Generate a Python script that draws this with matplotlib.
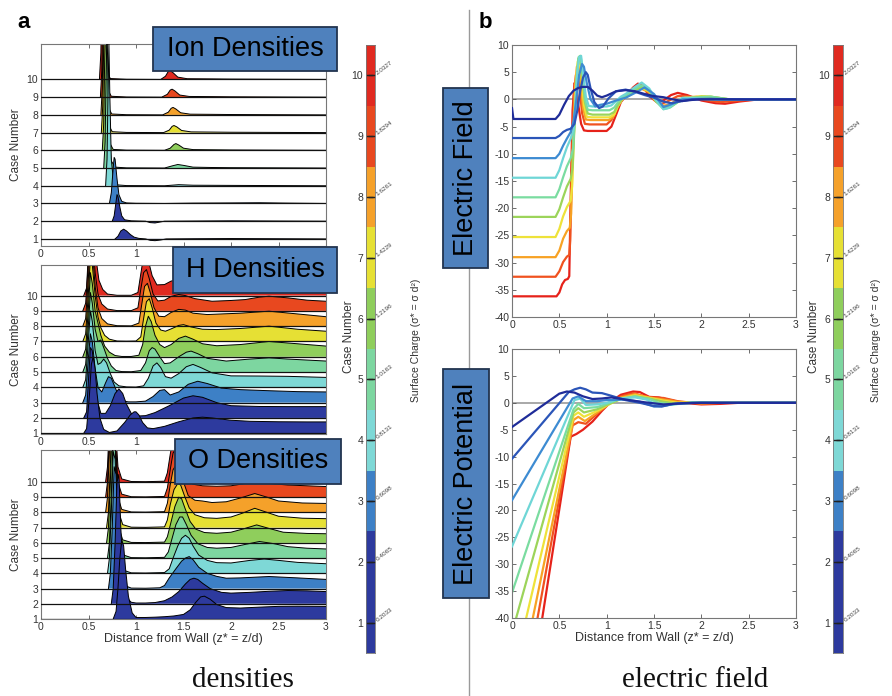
import matplotlib
matplotlib.use('Agg')
import matplotlib.pyplot as plt
from matplotlib.patches import Rectangle
from matplotlib.lines import Line2D
import matplotlib.transforms as mtrans
import numpy as np

plt.rcParams['font.family'] = ['Liberation Sans', 'DejaVu Sans']
plt.rcParams['axes.unicode_minus'] = False

W, H = 892, 696

# ---------------- data ----------------
cases = [1, 2, 3, 4, 5, 6, 7, 8, 9, 10]
surface_charge = ['0.2033', '0.4065', '0.6098', '0.8131', '1.0163',
                  '1.2196', '1.4229', '1.6261', '1.8294', '2.0327']
case_colors = ['#2d3a9e', '#2d3a9e', '#3d80c6', '#7ed8d6', '#7dd6a0',
               '#8fce5c', '#e6e034', '#f5a12a', '#e8481f', '#e02a20']
line_colors = ['#1f2c99', '#2b55b8', '#3d8bd2', '#6fd6d6', '#7adca0',
               '#9cd45a', '#eee23a', '#f7a224', '#f0521f', '#e6221a']
x_ticks = [0, 0.5, 1, 1.5, 2, 2.5, 3]
x_tick_labels = ['0', '0.5', '1', '1.5', '2', '2.5', '3']
# upper density panels: labels beyond x=1 are hidden behind the title boxes
x_tick_labels_upper = ['0', '0.5', '1', '', '', '', '']
e_ticks = [-40, -35, -30, -25, -20, -15, -10, -5, 0, 5, 10]

# Ion densities (height above each case baseline)
ion_x = [
    [0.78, 0.81, 0.84, 0.87, 0.9, 0.94, 0.98, 1.03, 1.1, 1.15, 1.2, 1.26, 1.32, 1.6, 2.0, 2.5, 3.0],
    [0.75, 0.77, 0.79, 0.8, 0.81, 0.83, 0.85, 0.88, 0.95, 1.1, 1.15, 1.2, 1.25, 1.3, 1.6, 2.0, 2.5, 3.0],
    [0.72, 0.74, 0.76, 0.77, 0.78, 0.8, 0.82, 0.85, 0.9, 1.0, 1.3, 1.6, 2.0, 2.3, 2.6, 3.0],
    [0.68, 0.695, 0.705, 0.715, 0.725, 0.74, 0.76, 0.8, 0.9, 1.3, 1.45, 1.6, 2.0, 2.5, 3.0],
    [0.66, 0.675, 0.685, 0.695, 0.705, 0.72, 0.74, 0.78, 0.9, 1.3, 1.38, 1.44, 1.5, 1.6, 1.8, 2.0, 2.5, 3.0],
    [0.645, 0.66, 0.67, 0.68, 0.69, 0.705, 0.725, 0.76, 0.9, 1.3, 1.36, 1.4, 1.42, 1.45, 1.5, 1.6, 1.8, 2.0, 2.5, 3.0],
    [0.635, 0.65, 0.66, 0.67, 0.68, 0.695, 0.715, 0.75, 0.9, 1.29, 1.35, 1.38, 1.40, 1.43, 1.48, 1.58, 1.8, 2.0, 2.5, 3.0],
    [0.63, 0.645, 0.655, 0.665, 0.675, 0.69, 0.71, 0.745, 0.9, 1.28, 1.34, 1.37, 1.39, 1.42, 1.47, 1.57, 1.8, 2.0, 2.5, 3.0],
    [0.625, 0.64, 0.65, 0.66, 0.67, 0.685, 0.705, 0.74, 0.9, 1.27, 1.33, 1.36, 1.38, 1.41, 1.46, 1.56, 1.8, 2.0, 2.5, 3.0],
    [0.615, 0.63, 0.64, 0.65, 0.66, 0.675, 0.695, 0.73, 0.9, 1.26, 1.31, 1.34, 1.36, 1.39, 1.44, 1.54, 1.8, 2.0, 2.5, 3.0],
]
ion_y = [
    [0, 0.15, 0.45, 0.55, 0.45, 0.25, 0.1, 0.03, 0.0, -0.08, -0.1, -0.06, 0, 0.01, 0.02, 0.01, 0],
    [0, 0.3, 1.1, 1.5, 1.4, 0.8, 0.3, 0.08, 0.02, 0, -0.08, -0.1, -0.05, 0, 0.01, 0.02, 0.01, 0],
    [0, 0.6, 2.0, 2.6, 2.5, 1.4, 0.5, 0.12, 0.03, 0.01, 0.0, 0.02, 0.03, 0.04, 0.02, 0],
    [0, 1.5, 5.0, 8.0, 5.0, 1.5, 0.4, 0.05, 0.01, 0, 0.06, 0.03, 0.02, 0.01, 0],
    [0, 1.5, 5.0, 8.0, 5.0, 1.5, 0.4, 0.05, 0.01, 0, 0.12, 0.2, 0.15, 0.05, 0.03, 0.02, 0.01, 0],
    [0, 1.5, 5.0, 8.0, 5.0, 1.5, 0.4, 0.05, 0.01, 0, 0.12, 0.33, 0.38, 0.3, 0.12, 0.04, 0.03, 0.02, 0.01, 0],
    [0, 1.5, 5.0, 8.0, 5.0, 1.5, 0.4, 0.05, 0.01, 0, 0.14, 0.35, 0.4, 0.32, 0.12, 0.04, 0.03, 0.02, 0.01, 0],
    [0, 1.5, 5.0, 8.0, 5.0, 1.5, 0.4, 0.05, 0.01, 0, 0.15, 0.37, 0.42, 0.33, 0.12, 0.04, 0.03, 0.02, 0.01, 0],
    [0, 1.5, 5.0, 8.0, 5.0, 1.5, 0.4, 0.05, 0.01, 0, 0.16, 0.4, 0.45, 0.35, 0.12, 0.04, 0.03, 0.02, 0.01, 0],
    [0, 1.5, 5.0, 8.0, 5.0, 1.5, 0.4, 0.05, 0.01, 0, 0.18, 0.45, 0.5, 0.38, 0.13, 0.04, 0.03, 0.02, 0.01, 0],
]

# H densities
h_x = [
    [0.45, 0.48, 0.51, 0.53, 0.55, 0.57, 0.59, 0.62, 0.66, 0.72, 0.8, 0.88, 0.94, 0.98, 1.0, 1.03, 1.07, 1.12, 1.18, 1.3, 1.45, 1.6, 1.7, 1.8, 2.0, 2.2, 2.5, 2.8, 3.0],
    [0.45, 0.48, 0.5, 0.52, 0.54, 0.56, 0.59, 0.63, 0.68, 0.73, 0.78, 0.82, 0.86, 0.9, 0.95, 1.0, 1.1, 1.2, 1.35, 1.5, 1.6, 1.7, 1.85, 2.0, 2.3, 2.6, 3.0],
    [0.44, 0.47, 0.5, 0.52, 0.54, 0.57, 0.6, 0.64, 0.68, 0.71, 0.74, 0.78, 0.82, 0.87, 0.92, 1.0, 1.1, 1.18, 1.25, 1.3, 1.36, 1.45, 1.55, 1.65, 1.75, 1.9, 2.1, 2.4, 2.7, 3.0],
    [0.44, 0.47, 0.5, 0.52, 0.54, 0.57, 0.6, 0.63, 0.66, 0.69, 0.73, 0.77, 0.82, 0.9, 1.0, 1.08, 1.13, 1.18, 1.22, 1.26, 1.31, 1.37, 1.45, 1.53, 1.6, 1.68, 1.8, 2.0, 2.3, 2.6, 3.0],
    [0.44, 0.47, 0.5, 0.52, 0.54, 0.57, 0.6, 0.63, 0.66, 0.7, 0.74, 0.79, 0.85, 0.95, 1.05, 1.1, 1.14, 1.17, 1.2, 1.25, 1.3, 1.36, 1.45, 1.53, 1.58, 1.65, 1.75, 1.95, 2.2, 2.4, 2.6, 3.0],
    [0.44, 0.47, 0.5, 0.52, 0.54, 0.57, 0.6, 0.63, 0.67, 0.72, 0.78, 0.85, 0.95, 1.03, 1.07, 1.1, 1.13, 1.16, 1.2, 1.25, 1.3, 1.37, 1.45, 1.52, 1.6, 1.7, 1.85, 2.1, 2.4, 2.7, 3.0],
    [0.44, 0.47, 0.5, 0.52, 0.54, 0.57, 0.6, 0.63, 0.67, 0.72, 0.8, 0.9, 1.0, 1.05, 1.08, 1.11, 1.14, 1.17, 1.21, 1.26, 1.31, 1.38, 1.45, 1.5, 1.58, 1.7, 1.85, 2.1, 2.4, 2.7, 3.0],
    [0.44, 0.47, 0.5, 0.52, 0.54, 0.57, 0.6, 0.64, 0.7, 0.8, 0.95, 1.03, 1.06, 1.09, 1.12, 1.15, 1.19, 1.24, 1.3, 1.37, 1.45, 1.52, 1.6, 1.75, 1.9, 2.1, 2.4, 2.7, 3.0],
    [0.44, 0.47, 0.5, 0.52, 0.54, 0.57, 0.6, 0.64, 0.7, 0.8, 0.95, 1.02, 1.05, 1.08, 1.11, 1.14, 1.18, 1.23, 1.3, 1.37, 1.45, 1.52, 1.62, 1.8, 2.0, 2.15, 2.3, 2.4, 2.6, 2.8, 3.0],
    [0.45, 0.48, 0.5, 0.53, 0.55, 0.58, 0.61, 0.65, 0.7, 0.8, 0.95, 1.02, 1.05, 1.08, 1.1, 1.13, 1.17, 1.22, 1.3, 1.37, 1.45, 1.55, 1.7, 1.9, 2.2, 2.4, 2.7, 3.0],
]
h_y = [
    [0, 0.3, 2.5, 4.5, 5.0, 4.2, 2.6, 1.0, 0.25, 0.05, 0.15, 0.7, 1.2, 1.4, 1.4, 1.2, 0.7, 0.35, 0.3, 0.45, 0.75, 1.0, 1.05, 1.0, 0.85, 0.78, 0.75, 0.74, 0.74],
    [0, 0.4, 2.5, 4.6, 4.4, 3.0, 1.2, 0.3, 0.3, 0.8, 1.6, 1.9, 1.6, 0.9, 0.3, 0.12, 0.15, 0.35, 0.8, 1.3, 1.45, 1.35, 1.0, 0.8, 0.75, 0.74, 0.74],
    [0, 0.5, 3.0, 4.5, 4.0, 2.2, 1.0, 0.7, 1.3, 1.7, 1.6, 1.0, 0.4, 0.1, 0.05, 0.05, 0.1, 0.4, 0.8, 0.85, 0.5, 0.7, 1.2, 1.4, 1.25, 0.95, 0.85, 0.78, 0.72, 0.7],
    [0, 0.5, 3.2, 5.0, 4.3, 2.4, 1.5, 1.6, 1.85, 1.6, 0.9, 0.35, 0.1, 0.03, 0.02, 0.1, 0.6, 1.4, 1.6, 1.3, 0.7, 0.6, 0.9, 1.35, 1.5, 1.3, 0.95, 0.75, 0.74, 0.72, 0.65],
    [0, 0.5, 3.2, 5.2, 4.5, 2.8, 2.0, 2.1, 1.6, 0.9, 0.4, 0.1, 0.03, 0.02, 0.1, 0.6, 1.4, 1.6, 1.5, 1.0, 0.55, 0.6, 1.0, 1.3, 1.37, 1.2, 0.9, 0.72, 0.85, 0.93, 0.85, 0.72],
    [0, 0.5, 3.3, 5.5, 4.8, 3.0, 2.2, 1.4, 0.7, 0.3, 0.08, 0.02, 0.02, 0.1, 0.8, 2.0, 2.65, 2.3, 1.4, 0.8, 0.6, 0.8, 1.2, 1.35, 1.15, 0.85, 0.72, 0.8, 1.0, 0.85, 0.7],
    [0, 0.5, 3.3, 5.5, 5.0, 3.0, 1.6, 0.9, 0.4, 0.15, 0.03, 0.02, 0.03, 0.3, 1.5, 2.6, 2.8, 2.2, 1.2, 0.75, 0.67, 0.85, 1.05, 1.1, 0.95, 0.8, 0.78, 0.85, 1.0, 0.8, 0.67],
    [0, 0.5, 3.3, 5.6, 5.0, 2.6, 1.2, 0.5, 0.15, 0.03, 0.02, 0.2, 1.4, 2.6, 2.8, 2.2, 1.2, 0.65, 0.62, 0.9, 1.1, 1.05, 0.85, 0.76, 0.8, 0.85, 0.98, 0.8, 0.62],
    [0, 0.5, 3.3, 5.6, 5.0, 2.5, 1.1, 0.45, 0.12, 0.02, 0.02, 0.2, 1.4, 2.5, 2.7, 2.1, 1.1, 0.65, 0.7, 0.95, 1.07, 1.0, 0.8, 0.63, 0.68, 0.74, 0.9, 0.96, 0.85, 0.7, 0.63],
    [0, 0.5, 3.0, 5.6, 5.0, 2.4, 1.0, 0.4, 0.1, 0.02, 0.02, 0.2, 1.4, 2.6, 2.9, 2.3, 1.3, 0.7, 0.72, 0.95, 1.05, 0.95, 0.8, 0.7, 0.8, 1.0, 0.8, 0.65],
]

# O densities
o_x = [
    [0.76, 0.79, 0.81, 0.83, 0.85, 0.87, 0.89, 0.92, 0.96, 1.0, 1.1, 1.2, 1.3, 1.4, 1.5, 1.57, 1.63, 1.68, 1.72, 1.78, 1.85, 1.95, 2.1, 2.3, 2.5, 2.7, 3.0],
    [0.74, 0.76, 0.78, 0.8, 0.82, 0.84, 0.87, 0.9, 0.95, 1.0, 1.1, 1.2, 1.3, 1.38, 1.45, 1.52, 1.57, 1.61, 1.65, 1.7, 1.78, 1.9, 2.0, 2.2, 2.4, 2.6, 2.8, 3.0],
    [0.71, 0.73, 0.75, 0.77, 0.79, 0.81, 0.84, 0.88, 0.95, 1.1, 1.25, 1.3, 1.35, 1.42, 1.48, 1.52, 1.56, 1.6, 1.66, 1.75, 1.85, 1.95, 2.1, 2.4, 2.7, 3.0],
    [0.7, 0.72, 0.74, 0.76, 0.78, 0.8, 0.83, 0.87, 0.95, 1.1, 1.3, 1.35, 1.39, 1.44, 1.48, 1.52, 1.56, 1.6, 1.66, 1.75, 1.85, 2.0, 2.2, 2.35, 2.5, 2.7, 3.0],
    [0.7, 0.72, 0.74, 0.76, 0.78, 0.8, 0.83, 0.87, 0.95, 1.1, 1.3, 1.34, 1.38, 1.42, 1.46, 1.49, 1.53, 1.58, 1.65, 1.75, 1.85, 2.0, 2.15, 2.3, 2.45, 2.6, 2.8, 3.0],
    [0.69, 0.71, 0.73, 0.75, 0.77, 0.79, 0.82, 0.86, 0.95, 1.1, 1.3, 1.33, 1.37, 1.41, 1.45, 1.48, 1.52, 1.57, 1.63, 1.72, 1.85, 2.0, 2.12, 2.27, 2.4, 2.55, 2.8, 3.0],
    [0.69, 0.71, 0.73, 0.75, 0.77, 0.79, 0.82, 0.86, 0.95, 1.1, 1.3, 1.33, 1.36, 1.4, 1.44, 1.47, 1.51, 1.56, 1.62, 1.72, 1.85, 2.0, 2.12, 2.25, 2.38, 2.5, 2.75, 3.0],
    [0.68, 0.7, 0.72, 0.74, 0.76, 0.78, 0.81, 0.85, 0.95, 1.1, 1.3, 1.33, 1.36, 1.39, 1.43, 1.46, 1.5, 1.55, 1.62, 1.7, 1.8, 1.95, 2.1, 2.25, 2.38, 2.5, 2.75, 3.0],
    [0.68, 0.7, 0.72, 0.74, 0.76, 0.78, 0.81, 0.85, 0.95, 1.1, 1.3, 1.33, 1.36, 1.39, 1.42, 1.45, 1.49, 1.54, 1.6, 1.7, 1.85, 2.0, 2.2, 2.4, 2.6, 2.8, 3.0],
    [0.68, 0.7, 0.72, 0.74, 0.76, 0.78, 0.81, 0.85, 0.95, 1.1, 1.3, 1.33, 1.36, 1.39, 1.42, 1.45, 1.49, 1.54, 1.6, 1.7, 1.85, 2.0, 2.2, 2.4, 2.6, 2.8, 3.0],
]
o_y = [
    [0, 0.5, 2.0, 4.0, 5.2, 4.8, 3.3, 1.5, 0.4, 0.1, 0.1, 0.12, 0.15, 0.2, 0.3, 0.6, 1.1, 1.45, 1.5, 1.3, 0.95, 0.75, 0.72, 0.78, 0.83, 0.84, 0.83],
    [0, 1.0, 4.0, 8.0, 8.5, 5.0, 1.5, 0.4, 0.1, 0.05, 0.05, 0.08, 0.2, 0.45, 0.8, 1.3, 1.6, 1.68, 1.6, 1.35, 1.0, 0.75, 0.7, 0.75, 0.82, 0.87, 0.85, 0.8],
    [0, 1.0, 4.0, 8.0, 7.5, 4.0, 1.0, 0.2, 0.03, 0.02, 0.05, 0.2, 0.7, 1.3, 1.8, 2.0, 2.1, 1.9, 1.4, 1.0, 0.8, 0.68, 0.7, 0.79, 0.7, 0.6],
    [0, 1, 4, 8, 7.5, 4, 1, 0.2, 0.03, 0.02, 0.05, 0.3, 1.0, 1.8, 2.3, 2.5, 2.3, 1.8, 1.2, 0.85, 0.7, 0.68, 0.85, 0.94, 0.85, 0.72, 0.63],
    [0, 1, 4, 8, 7.5, 4, 1, 0.2, 0.03, 0.02, 0.05, 0.4, 1.3, 2.2, 2.7, 2.7, 2.2, 1.5, 0.95, 0.7, 0.65, 0.7, 0.9, 1.09, 0.95, 0.75, 0.65, 0.6],
    [0, 1, 4, 8, 7.5, 4, 1, 0.2, 0.03, 0.02, 0.05, 0.4, 1.4, 2.4, 3.0, 2.9, 2.2, 1.4, 0.9, 0.68, 0.63, 0.7, 0.9, 1.18, 0.95, 0.7, 0.62, 0.6],
    [0, 1, 4, 8, 7.5, 4, 1, 0.2, 0.03, 0.02, 0.05, 0.5, 1.5, 2.5, 2.9, 2.8, 2.1, 1.3, 0.85, 0.65, 0.61, 0.7, 0.95, 1.27, 1.0, 0.75, 0.62, 0.59],
    [0, 1, 4, 8, 7.5, 4, 1, 0.2, 0.03, 0.02, 0.05, 0.6, 1.8, 2.8, 3.2, 3.0, 2.0, 1.1, 0.8, 0.75, 0.65, 0.7, 0.95, 1.24, 1.0, 0.75, 0.62, 0.59],
    [0, 1, 4, 8, 7.5, 4, 1, 0.2, 0.03, 0.02, 0.05, 0.6, 1.8, 2.9, 3.2, 3.0, 2.0, 1.1, 0.85, 0.75, 0.72, 0.75, 0.95, 0.9, 0.8, 0.75, 0.7],
    [0, 1, 4, 8, 7.5, 4, 1, 0.2, 0.03, 0.02, 0.05, 0.6, 1.8, 2.9, 3.2, 3.0, 2.0, 1.1, 0.85, 0.8, 0.8, 0.85, 1.0, 0.95, 0.85, 0.8, 0.75],
]

# Electric field
ef_x = [
    [0, 0.015, 0.1, 0.3, 0.46, 0.5, 0.55, 0.6, 0.65, 0.7, 0.75, 0.8, 0.85, 0.9, 0.95, 1.0, 1.1, 1.2, 1.3, 1.4, 1.5, 1.6, 1.7, 1.8, 1.9, 2.0, 2.3, 2.6, 3.0],
    [0, 0.3, 0.46, 0.5, 0.54, 0.58, 0.62, 0.66, 0.69, 0.72, 0.75, 0.78, 0.8, 0.83, 0.87, 0.92, 0.96, 1.02, 1.1, 1.2, 1.3, 1.4, 1.5, 1.6, 1.68, 1.8, 1.9, 2.1, 2.5, 3.0],
    [0, 0.3, 0.46, 0.5, 0.54, 0.58, 0.62, 0.65, 0.68, 0.71, 0.74, 0.76, 0.79, 0.83, 0.88, 0.93, 1.0, 1.1, 1.2, 1.3, 1.4, 1.5, 1.6, 1.7, 1.8, 2.0, 2.3, 3.0],
    [0, 0.3, 0.46, 0.5, 0.54, 0.58, 0.62, 0.65, 0.67, 0.69, 0.71, 0.73, 0.75, 0.78, 0.81, 0.85, 1.0, 1.05, 1.1, 1.15, 1.2, 1.3, 1.37, 1.45, 1.52, 1.6, 1.65, 1.72, 1.8, 1.9, 2.0, 2.2, 2.5, 3.0],
    [0, 0.3, 0.46, 0.5, 0.54, 0.58, 0.62, 0.645, 0.665, 0.685, 0.705, 0.725, 0.745, 0.77, 0.8, 0.85, 1.03, 1.08, 1.12, 1.17, 1.25, 1.32, 1.37, 1.45, 1.52, 1.6, 1.67, 1.75, 1.85, 2.0, 2.1, 2.3, 2.5, 3.0],
    [0, 0.3, 0.46, 0.5, 0.54, 0.58, 0.62, 0.64, 0.66, 0.68, 0.70, 0.72, 0.74, 0.77, 0.8, 0.85, 1.03, 1.08, 1.12, 1.17, 1.25, 1.32, 1.37, 1.45, 1.52, 1.6, 1.67, 1.75, 1.85, 2.0, 2.1, 2.3, 2.5, 3.0],
    [0, 0.3, 0.46, 0.5, 0.54, 0.58, 0.62, 0.635, 0.655, 0.675, 0.695, 0.715, 0.735, 0.76, 0.79, 0.84, 1.03, 1.08, 1.12, 1.17, 1.25, 1.32, 1.37, 1.45, 1.52, 1.6, 1.67, 1.75, 1.85, 2.0, 2.1, 2.3, 2.5, 3.0],
    [0, 0.3, 0.46, 0.5, 0.54, 0.58, 0.61, 0.625, 0.645, 0.665, 0.685, 0.705, 0.725, 0.75, 0.78, 0.83, 1.02, 1.07, 1.11, 1.16, 1.24, 1.31, 1.36, 1.44, 1.51, 1.58, 1.65, 1.73, 1.83, 1.95, 2.1, 2.3, 2.5, 3.0],
    [0, 0.3, 0.46, 0.5, 0.54, 0.58, 0.605, 0.615, 0.635, 0.655, 0.675, 0.695, 0.715, 0.74, 0.77, 0.82, 1.0, 1.05, 1.1, 1.15, 1.22, 1.3, 1.35, 1.42, 1.5, 1.57, 1.65, 1.75, 1.85, 2.0, 2.2, 2.4, 2.6, 3.0],
    [0, 0.3, 0.47, 0.5, 0.53, 0.56, 0.59, 0.605, 0.62, 0.64, 0.66, 0.68, 0.7, 0.73, 0.76, 0.8, 1.0, 1.05, 1.1, 1.15, 1.22, 1.28, 1.33, 1.38, 1.45, 1.53, 1.6, 1.68, 1.75, 1.85, 2.0, 2.15, 2.25, 2.4, 2.6, 3.0],
]
ef_y = [
    [-1.6, -3.6, -3.6, -3.6, -3.6, -2.8, -1.0, 0.6, 1.6, 2.1, 2.3, 2.3, 1.6, 0.7, 0.4, 0.7, 1.5, 1.7, 1.5, 1.0, 0.6, 0.4, 0.0, -0.3, -0.1, 0.0, 0.0, 0.0, 0.0],
    [-7.1, -7.1, -7.1, -6.7, -6.0, -5.6, -5.4, -4.5, -2.0, 1.5, 4.0, 5.0, 4.5, 2.0, -0.5, -1.6, -1.3, 0.2, 1.5, 1.8, 1.4, 0.8, 0.3, -0.4, -0.7, -0.3, 0.0, 0.1, 0.0, 0.0],
    [-10.8, -10.8, -10.8, -10.0, -8.5, -7.2, -6.0, -4.0, 0.0, 4.5, 6.5, 6.0, 3.0, 0.0, -1.3, -1.0, -0.8, -0.2, 0.3, 1.2, 2.2, 1.0, -1.4, -0.8, 0.0, 0.1, 0.0, 0.0],
    [-14.4, -14.4, -14.4, -13.0, -10.8, -8.8, -7.2, -5.5, -1.0, 5.0, 7.8, 8.0, 5.0, 0.5, -1.2, -1.3, -1.3, -1.1, -0.3, 0.5, 1.0, 2.3, 3.1, 2.0, 0.0, -1.8, -1.6, -0.6, 0.3, 0.3, 0.1, -0.1, 0.0, 0.0],
    [-18.0, -18.0, -18.0, -16.5, -14.3, -12.3, -10.8, -9.0, -3.0, 4.0, 7.8, 8.0, 5.0, 0.0, -1.9, -2.0, -2.0, -1.5, -0.5, 0.4, 1.2, 2.2, 2.6, 1.8, -0.3, -1.8, -1.5, -0.5, 0.2, 0.4, 0.5, 0.0, 0.0, 0.0],
    [-21.6, -21.6, -21.6, -20.2, -18.0, -16.0, -14.6, -12.5, -5.0, 3.0, 7.5, 8.0, 5.0, -0.5, -2.6, -2.8, -2.8, -2.3, -1.0, 0.2, 1.0, 1.9, 2.3, 1.6, -0.3, -1.6, -1.4, -0.5, 0.2, 0.5, 0.5, 0.0, 0.0, 0.0],
    [-25.3, -25.3, -25.3, -23.8, -21.5, -19.8, -18.6, -16.0, -6.0, 3.0, 7.0, 7.0, 4.5, -1.0, -3.2, -3.3, -3.3, -2.8, -1.2, 0.1, 0.9, 1.8, 2.1, 1.5, -0.3, -1.5, -1.3, -0.5, 0.2, 0.6, 0.5, 0.0, 0.0, 0.0],
    [-29.0, -29.0, -29.0, -27.8, -25.6, -24.2, -23.6, -21.0, -8.0, 2.0, 6.0, 6.0, 3.5, -1.5, -3.7, -3.8, -3.8, -3.2, -1.5, 0.0, 0.9, 1.7, 2.0, 1.4, -0.2, -1.2, -1.0, -0.3, 0.4, 0.5, 0.2, 0.0, 0.0, 0.0],
    [-32.6, -32.6, -32.6, -31.6, -29.9, -28.9, -28.6, -26.0, -10.0, 1.0, 4.5, 4.5, 2.0, -2.5, -4.5, -4.6, -4.6, -3.8, -1.8, 0.0, 1.0, 2.0, 2.5, 1.6, 0.0, -0.9, -0.3, 0.6, 0.6, 0.0, -0.5, -0.2, 0.0, 0.0],
    [-36.2, -36.2, -36.2, -35.5, -34.0, -33.2, -33.0, -32.5, -18.0, -2.0, 3.0, 2.5, -1.0, -4.5, -5.7, -5.8, -5.8, -5.0, -2.8, -0.5, 1.0, 2.2, 2.9, 2.5, 0.6, -0.5, -0.2, 0.8, 1.2, 0.8, -0.2, -0.7, -0.8, -0.4, 0.0, 0.0],
]

# Electric potential
pot_x = [
    [0, 0.5, 0.58, 0.66, 0.75, 0.85, 0.95, 1.05, 1.2, 1.4, 1.6, 1.8, 2.0, 3.0],
    [0, 0.6, 0.66, 0.72, 0.78, 0.85, 0.95, 1.05, 1.2, 1.35, 1.5, 1.58, 1.7, 1.9, 3.0],
    [0, 0.64, 0.7, 0.78, 0.9, 1.0, 1.2, 1.35, 1.5, 1.6, 1.75, 2.0, 3.0],
    [0, 0.66, 0.72, 0.78, 0.9, 1.0, 1.15, 1.3, 1.42, 1.55, 1.7, 1.9, 3.0],
    [0, 0.65, 0.7, 0.76, 0.9, 1.0, 1.15, 1.3, 1.45, 1.55, 1.7, 1.9, 2.1, 3.0],
    [0.02, 0.65, 0.7, 0.76, 0.9, 1.0, 1.15, 1.3, 1.45, 1.6, 1.75, 2.0, 2.2, 3.0],
    [0.13, 0.65, 0.7, 0.76, 0.9, 1.0, 1.15, 1.3, 1.45, 1.6, 1.75, 2.0, 2.2, 3.0],
    [0.2, 0.65, 0.7, 0.77, 0.9, 1.02, 1.15, 1.3, 1.45, 1.6, 1.75, 2.0, 2.2, 3.0],
    [0.25, 0.64, 0.7, 0.78, 0.9, 1.02, 1.15, 1.28, 1.45, 1.6, 1.75, 2.0, 2.25, 3.0],
    [0.3, 0.62, 0.68, 0.75, 0.85, 0.95, 1.05, 1.15, 1.28, 1.35, 1.45, 1.55, 1.65, 1.8, 2.0, 2.2, 2.4, 3.0],
]
pot_y = [
    [-4.5, 1.7, 2.1, 1.9, 1.2, 0.7, 0.8, 1.0, 0.6, 0.1, -0.3, -0.1, 0.0, 0.0],
    [-10.4, 2.0, 2.5, 2.8, 2.5, 1.9, 1.8, 1.3, 0.5, 0.0, -0.6, -0.7, -0.2, 0.0, 0.0],
    [-18.1, 0.8, 1.2, 0.3, 0.3, 0.5, 0.6, 0.2, -0.7, -0.6, -0.1, 0.0, 0.0],
    [-26.7, 0.5, 0.8, -0.4, -0.3, 0.0, 0.8, 1.0, 0.6, -0.6, -0.3, 0.0, 0.0],
    [-35.3, -1.2, -0.2, -1.0, -0.8, -0.2, 0.8, 1.2, 0.7, 0.0, -0.3, 0.1, 0.0, 0.0],
    [-41.5, -1.8, -1.0, -1.8, -1.2, -0.4, 0.7, 1.2, 0.8, 0.2, -0.2, 0.1, 0.0, 0.0],
    [-41.5, -2.4, -1.8, -2.6, -1.5, -0.5, 0.8, 1.4, 0.9, 0.4, 0.0, 0.1, 0.0, 0.0],
    [-41.7, -3.2, -2.6, -3.4, -1.8, -0.3, 1.0, 1.6, 1.0, 0.6, 0.2, -0.1, 0.0, 0.0],
    [-41.9, -4.2, -3.6, -3.9, -2.0, -0.2, 1.2, 1.8, 1.0, 0.9, 0.3, -0.2, 0.0, 0.0],
    [-42.2, -6.3, -5.8, -5.0, -3.5, -1.5, 0.3, 1.5, 2.1, 2.0, 1.1, 1.0, 0.6, 0.0, -0.3, -0.2, 0.0, 0.0],
]

# ---------------- helpers ----------------
fig = plt.figure(figsize=(W / 100, H / 100), dpi=100)


def rect(l, t, r, b):
    return [l / W, 1 - b / H, (r - l) / W, (b - t) / H]


TICK_COLOR = '#333333'
SPINE_COLOR = '#777777'


def style_axes(ax):
    for s in ax.spines.values():
        s.set_color(SPINE_COLOR)
        s.set_linewidth(0.8)
    ax.tick_params(direction='in', top=True, right=True, length=3, width=0.6,
                   color='#555555', labelsize=7.5, labelcolor=TICK_COLOR, pad=2)


def density_panel(r, xs, ys, ylim, tick_labels, xlabel=False):
    ax = fig.add_axes(r)
    for k in range(9, -1, -1):
        c = cases[k]
        x = np.array(xs[k])
        y = np.array(ys[k])
        z = 2 + (9 - k) * 0.1
        ax.fill_between(x, c, c + y, facecolor=case_colors[k], edgecolor='none', zorder=z)
        ax.plot(x, c + y, color='black', lw=0.7, zorder=z + 0.05)
    for c in cases:
        ax.axhline(c, color='#111111', lw=0.9, zorder=5)
    ax.set_xlim(0, 3)
    ax.set_ylim(*ylim)
    ax.set_xticks(x_ticks)
    ax.set_xticklabels(tick_labels)
    ax.set_yticks(cases)
    ax.set_yticklabels([str(c) for c in cases])
    style_axes(ax)
    ax.set_ylabel('Case Number', fontsize=8.5, color=TICK_COLOR, labelpad=3)
    if xlabel:
        ax.set_xlabel('Distance from Wall (z* = z/d)', fontsize=9, color=TICK_COLOR, labelpad=1)
    return ax


def line_panel(r, xs, ys, xlabel=False):
    ax = fig.add_axes(r)
    ax.axhline(0, color='#999999', lw=1.2, zorder=1)
    for k in range(9, -1, -1):
        ax.plot(xs[k], ys[k], color=line_colors[k], lw=1.6, zorder=2 + (9 - k) * 0.1,
                solid_joinstyle='round')
    ax.set_xlim(0, 3)
    ax.set_ylim(-40, 10)
    ax.set_xticks(x_ticks)
    ax.set_xticklabels(x_tick_labels)
    ax.set_yticks(e_ticks)
    ax.set_yticklabels([str(v) for v in e_ticks])
    style_axes(ax)
    if xlabel:
        ax.set_xlabel('Distance from Wall (z* = z/d)', fontsize=9, color=TICK_COLOR, labelpad=1)
    return ax


def colorbar(r, cn_x, sc_x):
    cax = fig.add_axes(r)
    for k, c in enumerate(cases):
        cax.axhspan(c - 0.5, c + 0.5, color=case_colors[k], lw=0)
    cax.set_xlim(0, 1)
    cax.set_ylim(0.5, 10.5)
    cax.set_xticks([])
    cax.set_yticks(cases)
    cax.set_yticklabels([str(c) for c in cases])
    for s in cax.spines.values():
        s.set_color(SPINE_COLOR)
        s.set_linewidth(0.6)
    cax.tick_params(axis='y', direction='in', left=True, right=True, length=5,
                    width=1.0, color='#222222', labelsize=7.5, labelcolor=TICK_COLOR, pad=2)
    tr = mtrans.blended_transform_factory(cax.transAxes, cax.transData)
    for c, s in zip(cases, surface_charge):
        cax.text(1.35, c, s, transform=tr, rotation=38, fontsize=4.6, color='#444444',
                 ha='left', va='bottom', rotation_mode='anchor')
    fig.text(cn_x / W, 1 - 337 / H, 'Case Number', rotation=90, fontsize=8.5,
             color=TICK_COLOR, ha='center', va='center')
    fig.text(sc_x / W, 1 - 340 / H, 'Surface Charge (σ* = σ d²)', rotation=90, fontsize=7.5,
             color=TICK_COLOR, ha='center', va='center')
    return cax


def label_box(l, t, r, b, text, rotation=0):
    fig.patches.append(Rectangle((l / W, 1 - b / H), (r - l) / W, (b - t) / H,
                                 transform=fig.transFigure, facecolor='#4f81bd',
                                 edgecolor='#22344f', lw=1.3, zorder=5))
    fig.text((l + r) / 2 / W, 1 - (t + b) / 2 / H, text, rotation=rotation,
             fontsize=19.5, color='black', ha='center', va='center', zorder=6)


# ---------------- panels ----------------
density_panel(rect(41, 44, 326, 246), ion_x, ion_y, (0.6, 12.0), x_tick_labels_upper)
density_panel(rect(41, 265, 326, 434), h_x, h_y, (0.95, 12.0), x_tick_labels_upper)
density_panel(rect(41, 450, 326, 619), o_x, o_y, (1.0, 12.1), x_tick_labels, xlabel=True)

line_panel(rect(512, 45, 796, 317), ef_x, ef_y)
line_panel(rect(512, 349, 796, 618), pot_x, pot_y, xlabel=True)

colorbar(rect(366, 45, 375, 653), 349, 416)
colorbar(rect(833, 45, 843, 653), 814, 876)

label_box(153, 27, 337, 71, 'Ion Densities')
label_box(173, 247, 337, 293, 'H Densities')
label_box(175, 439, 341, 484, 'O Densities')
label_box(443, 88, 488, 268, 'Electric Field', rotation=90)
label_box(443, 369, 489, 598, 'Electric Potential', rotation=90)

# separator and panel letters
fig.lines.append(Line2D([469 / W, 469 / W], [0, 1 - 10 / H], transform=fig.transFigure,
                        color='#9a9a9a', lw=1.0))
fig.text(24 / W, 1 - 22 / H, 'a', fontsize=16, fontweight='bold', ha='center', va='center')
fig.text(485 / W, 1 - 22 / H, 'b', fontsize=16, fontweight='bold', ha='center', va='center')

fig.text(243 / W, 1 - 680 / H, 'densities', fontsize=21, family='Liberation Serif',
         ha='center', va='center', color='#111111')
fig.text(695 / W, 1 - 680 / H, 'electric field', fontsize=21, family='Liberation Serif',
         ha='center', va='center', color='#111111')

fig.savefig('out.png', dpi=100, facecolor='white')
